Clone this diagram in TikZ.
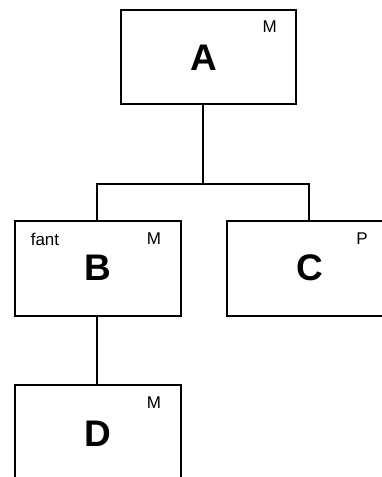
\documentclass[tikz,border=0pt]{standalone}
\usepackage{fontspec}
\setmainfont{Liberation Sans}
\begin{document}
\begin{tikzpicture}[x=1pt,y=-1pt,
  box/.style={draw,line width=1.8pt,rectangle,inner sep=0pt,minimum width=166pt,minimum height=95.3pt},
  letter/.style={font=\fontsize{37}{37}\selectfont\bfseries,inner sep=0pt},
  tag/.style={font=\fontsize{17}{17}\selectfont,inner sep=0pt},
  link/.style={line width=1.8pt}]
\useasboundingbox (0,0) rectangle (382,477);
\clip (0,0) rectangle (382,477);
% boxes
\node[box,minimum width=174.4pt,minimum height=94.3pt] (A) at (208.5,56.9) {};
\node[box] (B) at (98,268.4) {};
\node[box] (C) at (310,268.4) {};
\node[box] (D) at (98,433) {};
% letters and tags
\node[letter] (la) at (203.5,58) {A};
\node[tag] (ma) at (269.7,26.5) {M};
\node[letter] (lb) at (97.5,268) {B};
\node[tag] (fb) at (45,239) {fant};
\node[tag] (mb) at (154,239) {M};
\node[letter] (lc) at (309.5,268) {C};
\node[tag] (pc) at (362,239) {P};
\node[letter] (ld) at (97.5,434) {D};
\node[tag] (md) at (154,402.5) {M};
% connectors
\coordinate (j) at (202.7,184);
\coordinate (jb) at (96.7,184);
\coordinate (jc) at (308.7,184);
\draw[link] (A.south -| j) -- (j);
\draw[link] (B.north -| jb) -- (jb) -- (jc) -- (C.north -| jc);
\draw[link] (B.south -| jb) -- (D.north -| jb);
\end{tikzpicture}
\end{document}
